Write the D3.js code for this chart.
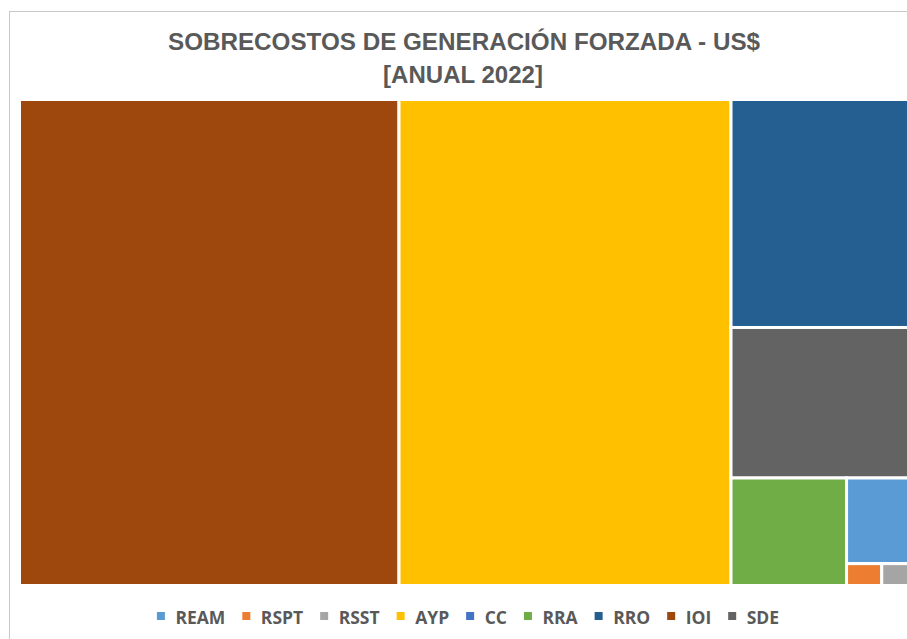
<!DOCTYPE html>
<html>
<head>
<meta charset="utf-8">
<script src="https://cdn.jsdelivr.net/npm/d3@7"></script>
<style>
  html, body { margin: 0; padding: 0; background: #ffffff; }
  svg { display: block; }
</style>
</head>
<body>
<svg id="chart" width="907" height="639"></svg>
<script>
// ---- data (miles de US$) ----
const categories = ["REAM", "RSPT", "RSST", "AYP", "CC", "RRA", "RRO", "IOI", "SDE"];
const values     = [599, 77, 76, 16135, 0, 1242, 4229, 18444, 2792];
const colors     = ["#5B9BD5", "#ED7D31", "#A5A5A5", "#FFC000", "#4472C4", "#70AD47", "#255E91", "#9E480E", "#636363"];
const titleLines = ["SOBRECOSTOS DE GENERACIÓN FORZADA - US$", "[ANUAL 2022]"];

const svg = d3.select("#chart");
const textColor = "#595959";

// chart area border (extends beyond the visible window)
svg.append("rect")
  .attr("x", 9.5).attr("y", 11.5)
  .attr("width", 912).attr("height", 700)
  .attr("fill", "#ffffff")
  .attr("stroke", "#c8c8c8")
  .attr("stroke-width", 1);

// title
const title = svg.append("g")
  .attr("font-family", "'Liberation Sans Narrow', 'Liberation Sans', Arial, sans-serif")
  .attr("font-weight", "bold")
  .attr("font-size", 23.5)
  .attr("fill", textColor);
title.append("text")
  .attr("x", 168).attr("y", 50)
  .attr("textLength", 592).attr("lengthAdjust", "spacingAndGlyphs")
  .text(titleLines[0]);
title.append("text")
  .attr("x", 383).attr("y", 82.5)
  .attr("textLength", 160).attr("lengthAdjust", "spacingAndGlyphs")
  .text(titleLines[1]);

// treemap
const items = categories.map((c, i) => ({ name: c, value: values[i], color: colors[i] }));
const colorScale = d3.scaleOrdinal().domain(categories).range(colors);

const root = d3.hierarchy({ children: items.filter(d => d.value > 0) })
  .sum(d => d.value || 0)
  .sort((a, b) => b.value - a.value);

const x0 = 19.5, y0 = 99.5, W = 897, H = 486;
d3.treemap()
  .tile(d3.treemapSquarify.ratio(1))
  .size([W, H])
  .round(false)(root);

const g = svg.append("g").attr("transform", `translate(${x0},${y0})`);
g.selectAll("rect")
  .data(root.leaves())
  .join("rect")
  .attr("x", d => d.x0)
  .attr("y", d => d.y0)
  .attr("width", d => d.x1 - d.x0)
  .attr("height", d => d.y1 - d.y0)
  .attr("fill", d => colorScale(d.data.name))
  .attr("stroke", "#ffffff")
  .attr("stroke-width", 3)
  .append("title").text(d => `${d.data.name}: ${d.data.value}`);

// legend
const legend = svg.append("g")
  .attr("font-family", "'Open Sans', 'Noto Sans', sans-serif")
  .attr("font-weight", "bold")
  .attr("font-size", 17.5)
  .attr("fill", textColor);

const sq = 8, gapSqText = 10.5, gapItems = 17;
let cx = 0;
const legendItems = legend.selectAll("g.item")
  .data(categories)
  .join("g").attr("class", "item");
legendItems.each(function(c) {
  const it = d3.select(this);
  it.append("rect")
    .attr("x", 0).attr("y", -12)
    .attr("width", sq).attr("height", sq)
    .attr("fill", colorScale(c));
  const t = it.append("text")
    .attr("x", sq + gapSqText).attr("y", 0)
    .text(c);
  const w = t.node().getComputedTextLength();
  it.attr("transform", `translate(${cx},0)`);
  cx += sq + gapSqText + w + gapItems;
});
const totalW = cx - gapItems;
legend.attr("transform", `translate(${468 - totalW / 2},${624})`);
</script>
</body>
</html>
